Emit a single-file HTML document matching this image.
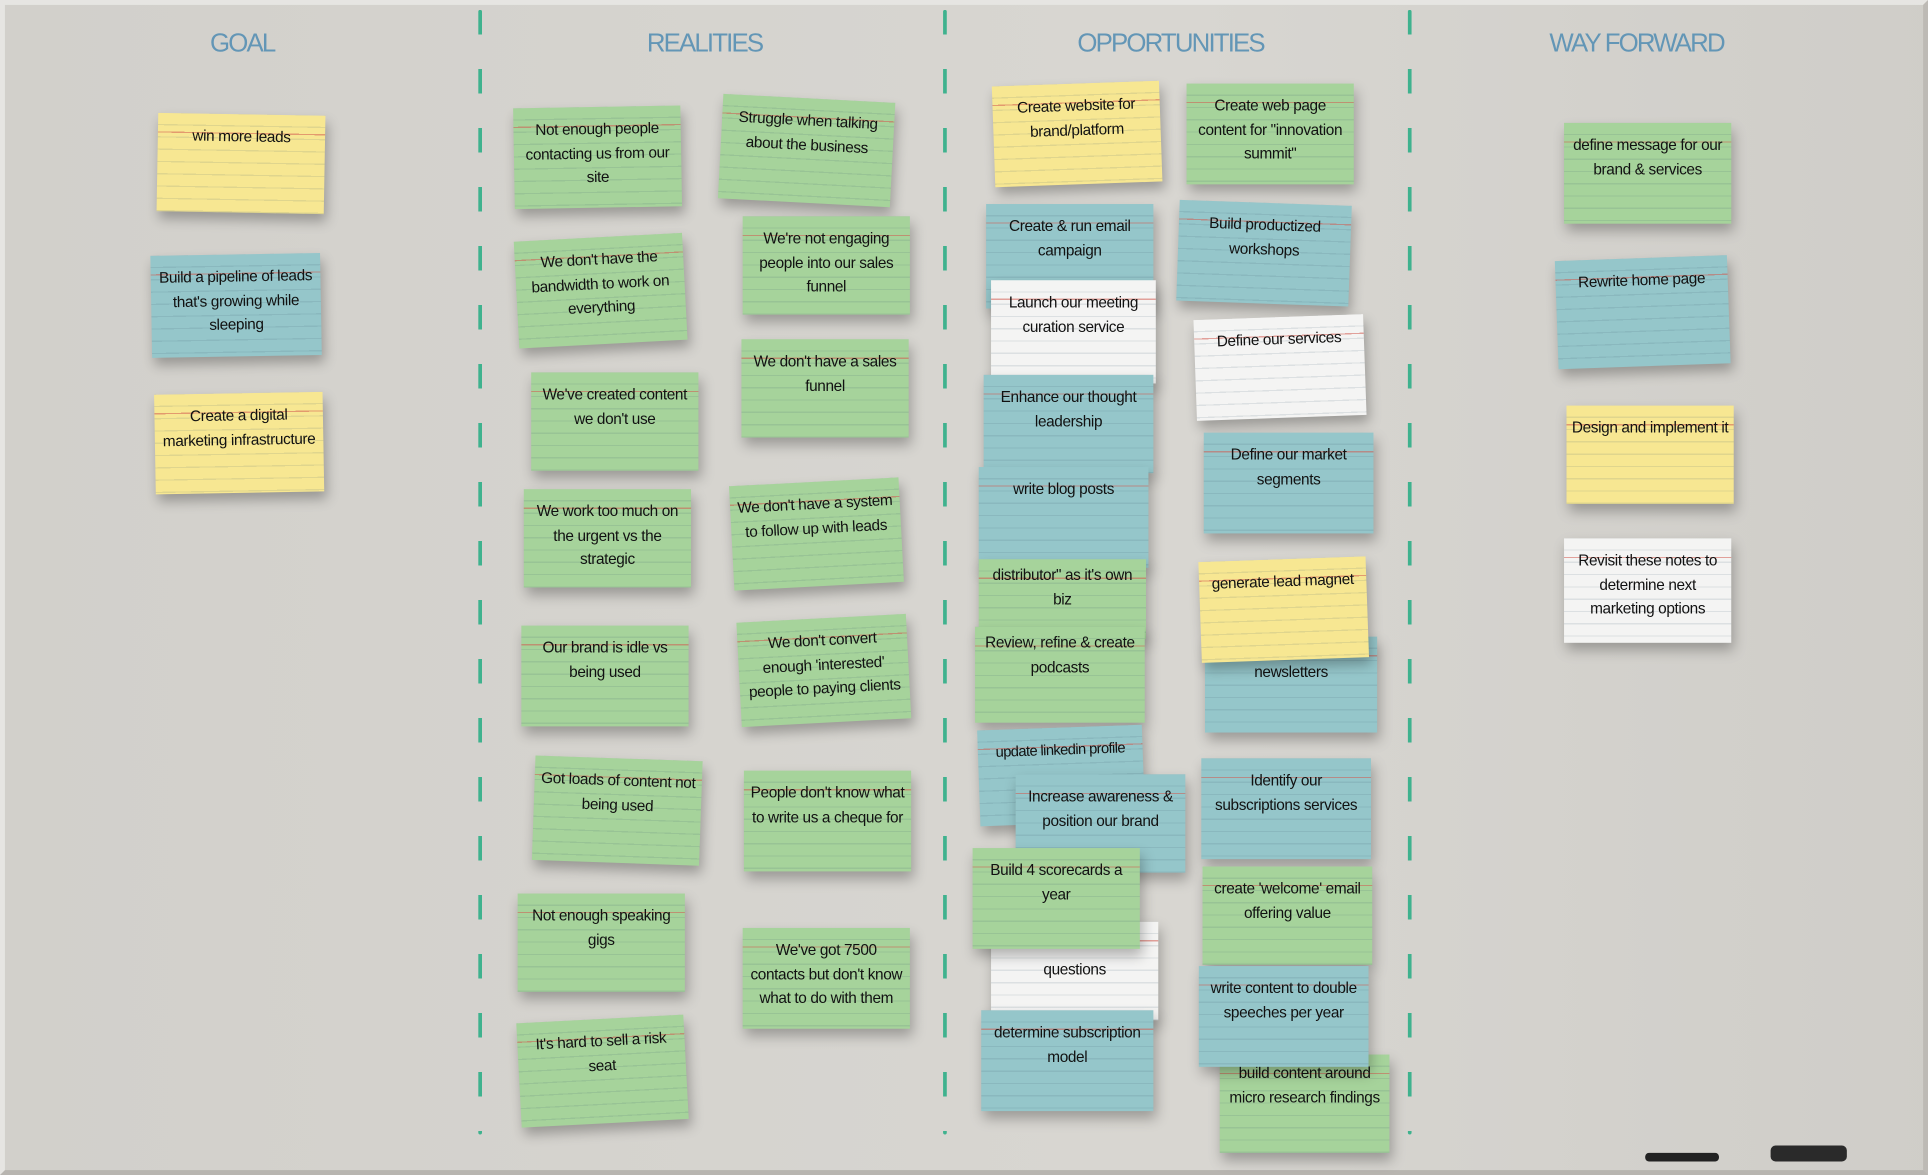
<!DOCTYPE html>
<html><head><meta charset="utf-8"><style>
html,body{margin:0;padding:0;width:1928px;height:1175px;overflow:hidden;background:#cfccc7}
#w{position:absolute;left:0;top:0;width:1568px;height:956px;transform:scale(1.22959,1.22908);transform-origin:0 0;background:#d6d4cf;font-family:"Liberation Sans Narrow","Liberation Sans",sans-serif}
#w:before{content:"";position:absolute;left:0;top:0;right:0;bottom:0;border:4px solid #e6e5e2;border-right-color:#bdbab5;border-bottom-color:#b8b5b0;background:linear-gradient(90deg,rgba(0,0,0,0.02),rgba(255,255,255,0.05) 60%,rgba(0,0,0,0.03))}
.h{position:absolute;top:24px;width:260px;margin-left:-130px;text-align:center;color:#6396b6;font-size:21px;letter-spacing:-1.5px;font-family:"Liberation Sans Narrow","Liberation Sans",sans-serif}
.d{position:absolute;width:3px;top:8px;height:915px;background:repeating-linear-gradient(180deg,#3fb28e 0 20px,transparent 20px 48px);border-radius:2px}
.c{position:absolute;box-sizing:border-box;padding:9px 4px 0;text-align:center;font-size:12.5px;letter-spacing:-0.3px;line-height:19.5px;color:#111;box-shadow:2px 6px 10px rgba(0,0,0,0.28);background-image:linear-gradient(180deg,transparent 15px,rgba(210,90,80,.55) 15px,rgba(210,90,80,.55) 16px,transparent 16px),repeating-linear-gradient(180deg,transparent 0 9px,rgba(60,90,110,.13) 9px 10px)}
.y{background-color:#f7e792}.g{background-color:#a6d39b}.b{background-color:#95c6ca}.wh{background-color:#f4f4f3}
</style></head><body><div id="w">
<div class="h" style="left:197px">GOAL</div>
<div class="h" style="left:573px">REALITIES</div>
<div class="h" style="left:952px">OPPORTUNITIES</div>
<div class="h" style="left:1331px">WAY FORWARD</div>
<div class="d" style="left:389px"></div>
<div class="d" style="left:767px"></div>
<div class="d" style="left:1145px"></div>

<div class="c y" style="left:128px;top:93px;width:136px;height:80px;transform:rotate(1deg)">win more leads</div>
<div class="c b" style="left:123px;top:207px;width:138px;height:83px;transform:rotate(-1deg)">Build a pipeline of leads that's growing while sleeping</div>
<div class="c y" style="left:126px;top:320px;width:137px;height:81px;transform:rotate(-1deg)">Create a digital marketing infrastructure</div>

<div class="c g" style="left:418px;top:87px;width:136px;height:82px;transform:rotate(-1deg)">Not enough people contacting us from our site</div>
<div class="c g" style="left:586px;top:80px;width:140px;height:85px;transform:rotate(3deg)">Struggle when talking about the business</div>
<div class="c g" style="left:420px;top:193px;width:137px;height:87px;transform:rotate(-3deg)">We don't have the bandwidth to work on everything</div>
<div class="c g" style="left:604px;top:176px;width:136px;height:80px">We're not engaging people into our sales funnel</div>
<div class="c g" style="left:432px;top:303px;width:136px;height:80px">We've created content we don't use</div>
<div class="c g" style="left:603px;top:276px;width:136px;height:80px">We don't have a sales funnel</div>
<div class="c g" style="left:426px;top:398px;width:136px;height:80px">We work too much on the urgent vs the strategic</div>
<div class="c g" style="left:595px;top:392px;width:138px;height:85px;transform:rotate(-3deg)">We don't have a system to follow up with leads</div>
<div class="c g" style="left:424px;top:509px;width:136px;height:82px">Our brand is idle vs being used</div>
<div class="c g" style="left:601px;top:503px;width:138px;height:85px;transform:rotate(-3deg)">We don't convert enough 'interested' people to paying clients</div>
<div class="c g" style="left:434px;top:617px;width:136px;height:85px;transform:rotate(2deg)">Got loads of content not being used</div>
<div class="c g" style="left:605px;top:627px;width:136px;height:82px">People don't know what to write us a cheque for</div>
<div class="c g" style="left:421px;top:727px;width:136px;height:80px">Not enough speaking gigs</div>
<div class="c g" style="left:604px;top:755px;width:136px;height:82px">We've got 7500 contacts but don't know what to do with them</div>
<div class="c g" style="left:422px;top:829px;width:136px;height:85px;transform:rotate(-3deg)">It's hard to sell a risk seat</div>

<div class="c y" style="left:808px;top:68px;width:136px;height:82px;transform:rotate(-2deg)">Create website for brand/platform</div>
<div class="c g" style="left:965px;top:68px;width:136px;height:82px">Create web page content for "innovation summit"</div>
<div class="c b" style="left:802px;top:166px;width:136px;height:85px">Create &amp; run email campaign</div>
<div class="c b" style="left:958px;top:165px;width:140px;height:82px;transform:rotate(2deg)">Build productized workshops</div>
<div class="c wh" style="left:806px;top:228px;width:134px;height:84px">Launch our meeting curation service</div>
<div class="c wh" style="left:972px;top:258px;width:138px;height:82px;transform:rotate(-2deg)">Define our services</div>
<div class="c b" style="left:800px;top:305px;width:138px;height:80px">Enhance our thought leadership</div>
<div class="c b" style="left:979px;top:352px;width:138px;height:82px">Define our market segments</div>
<div class="c b" style="left:796px;top:380px;width:138px;height:82px">write blog posts</div>
<div class="c g" style="left:796px;top:455px;width:136px;height:65px;padding-top:4px">distributor" as it's own biz</div>
<div class="c b" style="left:980px;top:518px;width:140px;height:78px;padding-top:20px">newsletters</div>
<div class="c y" style="left:976px;top:455px;width:136px;height:82px;transform:rotate(-2deg)">generate lead magnet</div>
<div class="c g" style="left:793px;top:510px;width:138px;height:78px;padding-top:4px">Review, refine &amp; create podcasts</div>
<div class="c b" style="left:796px;top:592px;width:134px;height:78px;transform:rotate(-2deg);font-size:12px;letter-spacing:-0.5px">update linkedin profile</div>
<div class="c b" style="left:826px;top:630px;width:138px;height:80px">Increase awareness &amp; position our brand</div>
<div class="c b" style="left:977px;top:617px;width:138px;height:82px">Identify our subscriptions services</div>
<div class="c wh" style="left:806px;top:750px;width:136px;height:80px;padding-top:30px">questions</div>
<div class="c g" style="left:791px;top:690px;width:136px;height:82px">Build 4 scorecards a year</div>
<div class="c g" style="left:978px;top:705px;width:138px;height:80px">create 'welcome' email offering value</div>
<div class="c b" style="left:798px;top:822px;width:140px;height:82px">determine subscription model</div>
<div class="c g" style="left:992px;top:858px;width:138px;height:80px;padding-top:6px">build content around micro research findings</div>
<div class="c b" style="left:975px;top:786px;width:138px;height:82px">write content to double speeches per year</div>

<div class="c g" style="left:1272px;top:100px;width:136px;height:82px">define message for our brand &amp; services</div>
<div class="c b" style="left:1266px;top:210px;width:140px;height:88px;transform:rotate(-2deg)">Rewrite home page</div>
<div class="c y" style="left:1274px;top:330px;width:136px;height:80px">Design and implement it</div>
<div class="c wh" style="left:1272px;top:438px;width:136px;height:85px">Revisit these notes to determine next marketing options</div>

<div style="position:absolute;left:1338px;top:938px;width:60px;height:7px;background:#222;border-radius:3px"></div>
<div style="position:absolute;left:1440px;top:932px;width:62px;height:13px;background:#2a2a2a;border-radius:4px"></div>
</div></body></html>
